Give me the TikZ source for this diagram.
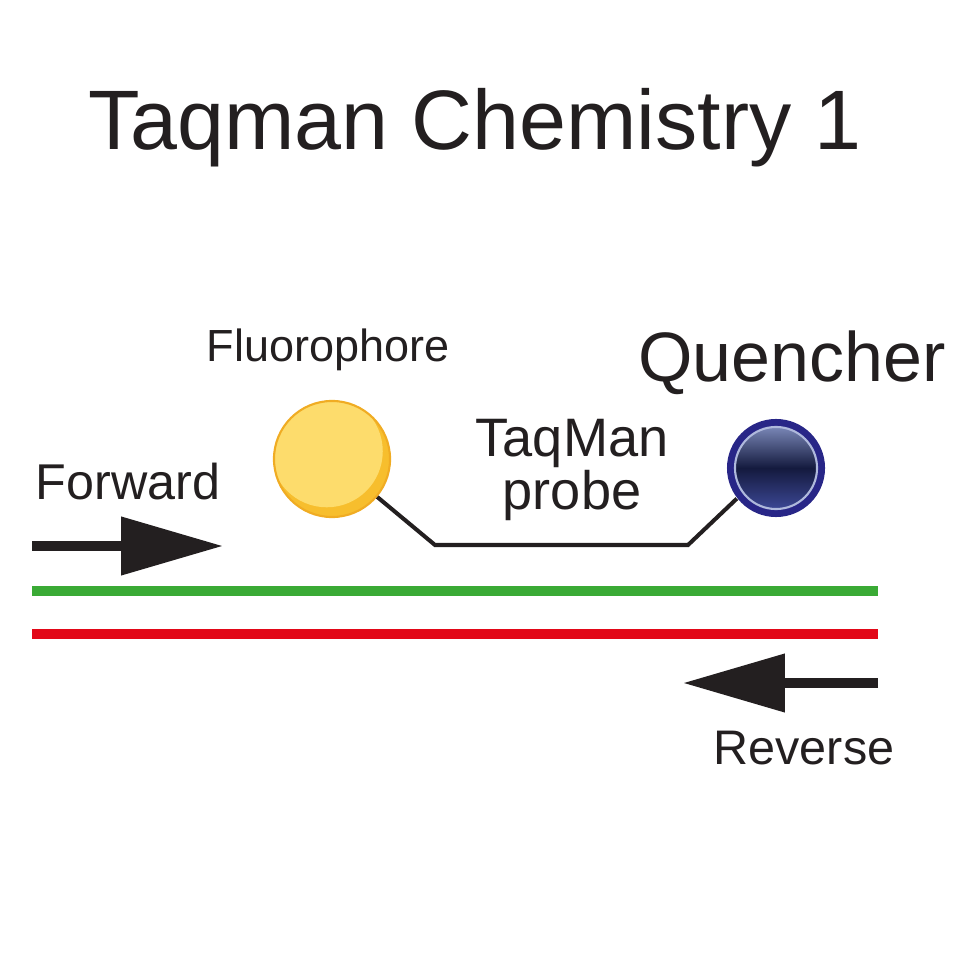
\documentclass[tikz,border=0pt]{standalone}
\usepackage{fontspec}
\setmainfont{Liberation Sans}
\setsansfont{Liberation Sans}
\usetikzlibrary{arrows.meta}

\definecolor{inkgray}{RGB}{35,31,32}
\definecolor{strandgreen}{RGB}{58,170,53}
\definecolor{strandred}{RGB}{226,8,24}
\definecolor{dyefill}{RGB}{253,220,108}
\definecolor{dyerim}{RGB}{240,172,35}
\definecolor{dyeshade}{RGB}{247,190,45}
\definecolor{quenchrim}{RGB}{40,38,135}
\definecolor{quenchtop}{RGB}{140,155,205}
\definecolor{quenchmid}{RGB}{20,26,62}
\definecolor{quenchbot}{RGB}{68,80,165}

\begin{document}
\begin{tikzpicture}[x=0.01cm,y=-0.01cm,font=\sffamily,
  lbl/.style={text=inkgray,inner sep=0pt,anchor=base},
  strand/.style={line width=2.6pt,line cap=butt},
  primer/.style={draw=inkgray,line width=2.85pt,-{Triangle[length=29pt,width=16pt]}},
  dye/.style={circle,minimum size=1.16cm,inner sep=0pt,draw=dyerim,line width=0.6pt,fill=dyeshade,
    path picture={\fill[dyefill] ([shift={(-1.5pt,2.2pt)}]path picture bounding box.center) circle (0.56cm);}},
  quench/.style={circle,minimum size=0.98cm,inner sep=0pt,fill=quenchrim,
    path picture={\shade[top color=quenchtop,bottom color=quenchbot,middle color=quenchmid,draw=quenchtop!70!white,line width=0.6pt]
      (path picture bounding box.center) circle (0.41cm);}}]
  \useasboundingbox (0,0) rectangle (964,964);

  % title
  \node[lbl,font=\sffamily\fontsize{24}{28}\selectfont] (title) at (475,150) {Taqman Chemistry 1};

  % probe with its two ends
  \node[dye] (fluor) at (332,459) {};
  \node[quench] (quencher) at (776,468) {};
  \node[lbl,font=\sffamily\fontsize{12.8}{15}\selectfont] (fluorlbl) at (328,362) {Fluorophore};
  \node[lbl,font=\sffamily\fontsize{19.9}{24}\selectfont] (quenchlbl) at (792,381) {Quencher};
  \node[text=inkgray,inner sep=0pt,align=center,font=\sffamily\fontsize{15.4}{14.8}\selectfont] (probelbl) at (572,470) {TaqMan\\probe};
  \coordinate (bendL) at (435,545);
  \coordinate (bendR) at (688,545);
  \draw[inkgray,line width=1.15pt,line join=miter] (fluor.-40) -- (bendL) -- (bendR) -- (quencher.-142);

  % strands
  \coordinate (gstart) at (32,591);  \coordinate (gend) at (878,591);
  \coordinate (rstart) at (32,634);  \coordinate (rend) at (878,634);
  \draw[strand,strandgreen] (gstart) -- (gend);
  \draw[strand,strandred] (rstart) -- (rend);

  % primers
  \node[lbl,font=\sffamily\fontsize{14.3}{17}\selectfont] (fwdlbl) at (128,499) {Forward};
  \coordinate (fwdtail) at (32,546);  \coordinate (fwdtip) at (223,546);
  \draw[primer] (fwdtail) -- (fwdtip);
  \node[lbl,font=\sffamily\fontsize{13.8}{17}\selectfont] (revlbl) at (804,764) {Reverse};
  \coordinate (revtail) at (878,683);  \coordinate (revtip) at (683,683);
  \draw[primer] (revtail) -- (revtip);
\end{tikzpicture}
\end{document}
